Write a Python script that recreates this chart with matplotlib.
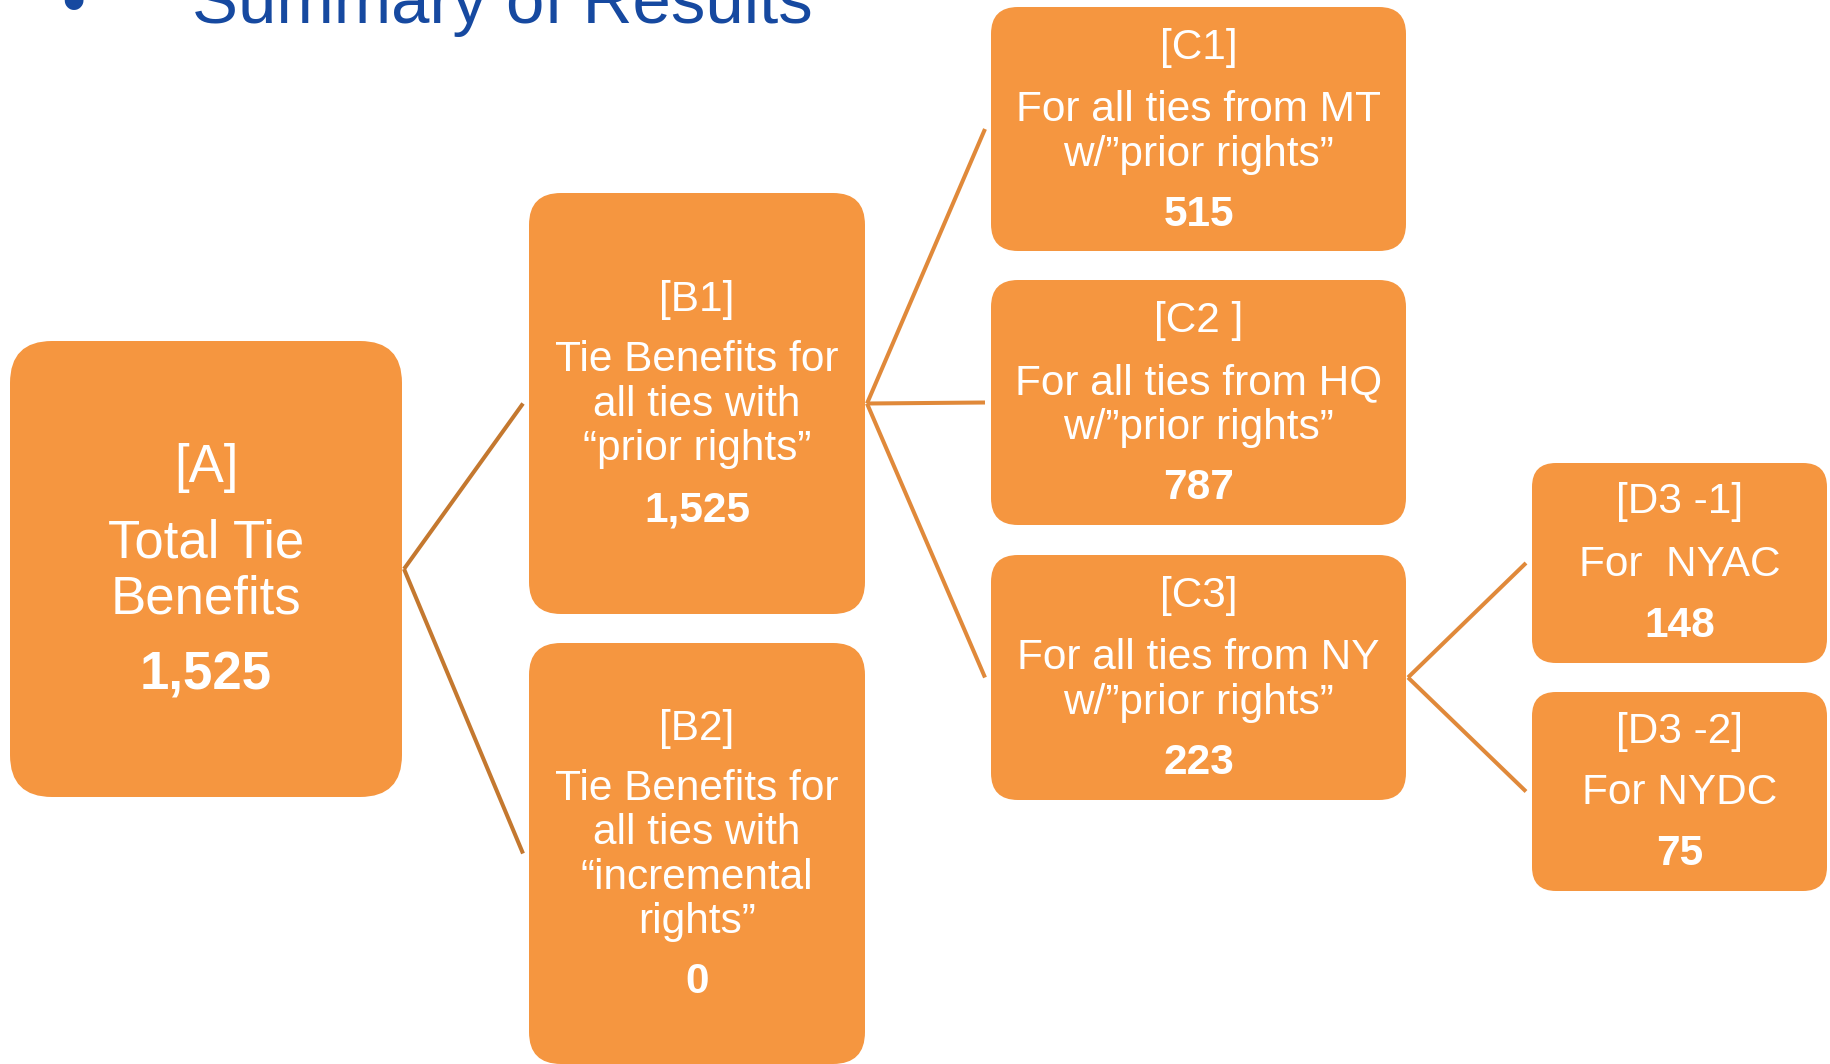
import matplotlib
matplotlib.use("Agg")
import matplotlib.pyplot as plt
from matplotlib.patches import FancyBboxPatch

# ---- data ----
node_ids = ["A", "B1", "B2", "C1", "C2", "C3", "D1", "D2"]
node_labels = ["[A]", "[B1]", "[B2]", "[C1]", "[C2 ]", "[C3]", "[D3 -1]", "[D3 -2]"]
node_desc = [
    ["Total Tie", "Benefits"],
    ["Tie Benefits for", "all ties with", "\u201cprior rights\u201d"],
    ["Tie Benefits for", "all ties with", "\u201cincremental", "rights\u201d"],
    ["For all ties from MT", "w/\u201dprior rights\u201d"],
    ["For all ties from HQ", "w/\u201dprior rights\u201d"],
    ["For all ties from NY", "w/\u201dprior rights\u201d"],
    ["For  NYAC"],
    ["For NYDC"],
]
node_values = [1525, 1525, 0, 515, 787, 223, 148, 75]
edges = [("A", "B1"), ("A", "B2"), ("B1", "C1"), ("B1", "C2"), ("B1", "C3"),
         ("C3", "D1"), ("C3", "D2")]
title = "Summary of Results"

# ---- layout (pixels) ----
boxes = {  # x0, x1, y0, y1, corner radius
    "A": (10, 402, 341, 797, 42),
    "B1": (529, 865, 193, 614, 32),
    "B2": (529, 865, 643, 1064, 32),
    "C1": (991, 1406, 7, 251, 27),
    "C2": (991, 1406, 280, 525, 27),
    "C3": (991, 1406, 555, 800, 27),
    "D1": (1532, 1827, 463, 663, 24),
    "D2": (1532, 1827, 692, 891, 24),
}
# label baseline, first desc baseline, line step, value baseline (offsets from box top), font size
text_layout = {
    "A": (141, 217, 55, 349, 38.0),
    "B1": (118, 178, 44.5, 328, 30.5),
    "B2": (97, 157, 44.5, 350, 30.5),
    "C1": (52, 114, 45, 219, 30.5),
    "C2": (52, 114, 45, 219, 30.5),
    "C3": (52, 114, 45, 219, 30.5),
    "D1": (50, 113, 45, 174, 30.5),
    "D2": (51, 112, 45, 173, 30.5),
}
edge_colors = {"A": "#C4782F", "B1": "#E0893A", "C3": "#E0893A"}

FILL = "#F59640"
FONT = ["Liberation Sans", "DejaVu Sans"]

W, H = 1831, 1064
fig = plt.figure(figsize=(W / 100, H / 100), dpi=100)
ax = fig.add_axes([0, 0, 1, 1])
ax.set_xlim(0, W)
ax.set_ylim(H, 0)
ax.axis("off")

# connectors
for parent, child in edges:
    px0, px1, py0, py1, _ = boxes[parent]
    cx0, cx1, cy0, cy1, _ = boxes[child]
    vx, vy = px1 + 2, (py0 + py1) / 2
    ex, ey = cx0 - 6, (cy0 + cy1) / 2
    ax.plot([vx, ex], [vy, ey], color=edge_colors[parent], lw=2.9,
            solid_capstyle="butt", zorder=1)

# boxes and text
for nid, lab, desc, val in zip(node_ids, node_labels, node_desc, node_values):
    x0, x1, y0, y1, r = boxes[nid]
    patch = FancyBboxPatch((x0, y0), x1 - x0, y1 - y0,
                           boxstyle=f"round,pad=0,rounding_size={r}",
                           fc=FILL, ec="none", zorder=2)
    ax.add_patch(patch)
    lb, db, step, vb, fs = text_layout[nid]
    xc = (x0 + x1) / 2
    ax.text(xc, y0 + lb, lab, ha="center", va="baseline", color="white",
            fontsize=fs, family=FONT, zorder=3)
    for i, line in enumerate(desc):
        ax.text(xc, y0 + db + i * step, line, ha="center", va="baseline",
                color="white", fontsize=fs, family=FONT, zorder=3)
    ax.text(xc, y0 + vb, f"{val:,}", ha="center", va="baseline", color="white",
            fontsize=fs, fontweight="bold", family=FONT, zorder=3)

# title (cut off at top, as in the original slide)
ax.text(73, 23, "\u2022", ha="center", va="baseline", color="#1649A0",
        fontsize=49.7, family=FONT)
ax.text(192, 23, title, ha="left", va="baseline", color="#1649A0",
        fontsize=49.7, family=FONT)

fig.savefig("out.png", dpi=100, facecolor="white")
